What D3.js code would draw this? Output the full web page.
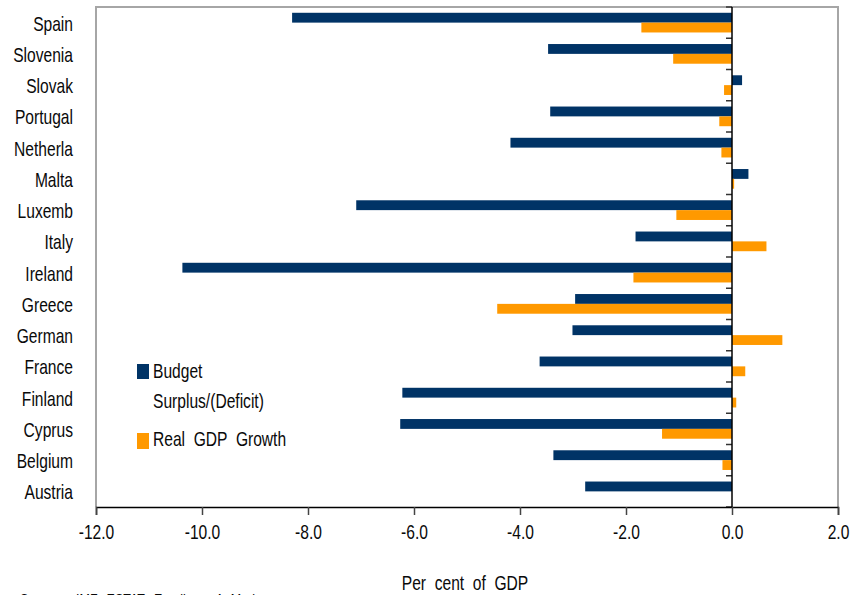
<!DOCTYPE html>
<html>
<head>
<meta charset="utf-8">
<script src="https://cdn.jsdelivr.net/npm/d3@7"></script>
<style>
  body { margin: 0; background: #fff; }
  svg text { font-family: "Liberation Sans", Arial, sans-serif; fill: #0a0a0a; white-space: pre; }
</style>
</head>
<body>
<svg id="chart" width="850" height="595"></svg>
<script>
// countries, top to bottom as drawn
const countries = ['Spain', 'Slovenia', 'Slovak', 'Portugal', 'Netherla', 'Malta', 'Luxemb', 'Italy',
  'Ireland', 'Greece', 'German', 'France', 'Finland', 'Cyprus', 'Belgium', 'Austria']
const budget = [-8.30, -3.47, 0.19, -3.43, -4.18, 0.31, -7.09, -1.82,
  -10.37, -2.96, -3.01, -3.63, -6.22, -6.26, -3.37, -2.77]
const gdpGrowth = [-1.71, -1.11, -0.15, -0.24, -0.20, 0.04, -1.05, 0.65,
  -1.86, -4.43, 0.95, 0.25, 0.08, -1.32, -0.18, 0]
const xTicks = [-12, -10, -8, -6, -4, -2, 0, 2]
const seriesNames = ['Budget', 'Real  GDP  Growth']
const seriesColors = ['#003366', '#ff9900']

let svg = d3.select('#chart')

let plotLeft = 96, plotRight = 838, plotTop = 7, plotBottom = 507
let squeeze = 0.78   // the original font is a narrow one

// put a condensed text at (tx, ty)
let narrowText = (parent, tx, ty, str, size, anchor) => {
  return parent.append('text')
    .attr('transform', `translate(${tx},${ty}) scale(${squeeze},1)`)
    .attr('text-anchor', anchor || 'start')
    .style('font-size', size + 'px')
    .text(str)
}

let x = d3.scaleLinear().domain([-12, 2]).range([plotLeft, plotRight])
let y = d3.scaleBand().domain(countries).range([plotTop, plotBottom]).paddingInner(0.37).paddingOuter(0.185)
let sub = d3.scaleBand().domain([0, 1]).range([0, y.bandwidth()])

// plot frame (grey)
svg.append('path')
   .attr('d', `M${plotLeft},${plotBottom} V${plotTop} H${plotRight} V${plotBottom}`)
   .attr('fill', 'none')
   .attr('stroke', '#a6a6a6')
   .attr('stroke-width', 2)

let rows = svg.selectAll('g.row')
   .data(countries)
   .enter()
   .append('g')
   .attr('class', 'row')
   .attr('transform', d => `translate(0,${y(d)})`)

rows.append('rect')
    .attr('x', (d, i) => x(Math.min(0, budget[i])))
    .attr('width', (d, i) => Math.abs(x(budget[i]) - x(0)))
    .attr('y', sub(0))
    .attr('height', sub.bandwidth())
    .attr('fill', seriesColors[0])

rows.append('rect')
    .attr('x', (d, i) => x(Math.min(0, gdpGrowth[i])))
    .attr('width', (d, i) => Math.abs(x(gdpGrowth[i]) - x(0)))
    .attr('y', sub(1))
    .attr('height', sub.bandwidth())
    .attr('fill', seriesColors[1])

// category ticks along zero
let catTicks = d3.range(countries.length + 1).map(i => plotTop + i * (plotBottom - plotTop) / countries.length)
svg.append('g')
   .selectAll('line')
   .data(catTicks)
   .enter()
   .append('line')
   .attr('x1', x(0) - 6).attr('x2', x(0))
   .attr('y1', d => d).attr('y2', d => d)
   .attr('stroke', '#333')
   .attr('stroke-width', 1.5)

svg.append('line')
   .attr('x1', x(0)).attr('x2', x(0))
   .attr('y1', plotTop).attr('y2', plotBottom)
   .attr('stroke', '#000')
   .attr('stroke-width', 1.5)

// category labels
let labels = svg.append('g')
countries.forEach(c => {
  narrowText(labels, 73, y(c) + y.bandwidth() / 2 + 8, c, 20, 'end')
})

// x axis
let xAxis = d3.axisBottom(x).tickValues(xTicks).tickSize(8).tickPadding(10).tickFormat(d => d.toFixed(1))
let gx = svg.append('g')
   .attr('transform', `translate(0,${plotBottom})`)
   .call(xAxis)
gx.select('.domain').attr('stroke', '#000').attr('stroke-width', 1.5)
gx.selectAll('.tick line').attr('stroke', '#444').attr('stroke-width', 1.5)
gx.selectAll('.tick text')
  .style('font-size', '20px')
  .style('font-family', '"Liberation Sans", Arial, sans-serif')
  .attr('fill', '#0a0a0a')
  .attr('transform', `scale(${squeeze},1)`)

narrowText(svg, 465, 590, 'Per  cent  of  GDP', 20, 'middle')
narrowText(svg, 20, 606, 'Sources:  IMF,  ESTAT,  Eurolines,  A. Markets', 16)

// legend
let legend = svg.append('g')
legend.append('rect').attr('x', 137).attr('y', 364).attr('width', 12).attr('height', 15).attr('fill', seriesColors[0])
narrowText(legend, 153, 378, seriesNames[0], 20)
narrowText(legend, 153, 408, 'Surplus/(Deficit)', 20)
legend.append('rect').attr('x', 137).attr('y', 433).attr('width', 12).attr('height', 16).attr('fill', seriesColors[1])
narrowText(legend, 153, 446, seriesNames[1], 20)
</script>
</body>
</html>
